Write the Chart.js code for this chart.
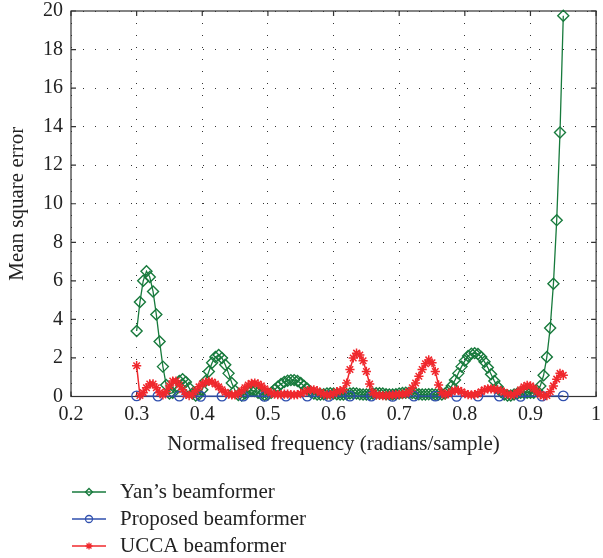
<!DOCTYPE html>
<html>
<head>
<meta charset="utf-8">
<script src="https://cdn.jsdelivr.net/npm/chart.js@4.4.0/dist/chart.umd.min.js"></script>
<style>
  html, body { margin: 0; padding: 0; background: #fff; }
  #wrap { width: 603px; height: 558px; }
</style>
</head>
<body>
<div id="wrap"><canvas id="mseChart" width="603" height="558"></canvas></div>
<script>
// frequency grid used by Yan's and the UCCA beamformer (0.005 steps)
const freqFine = [
  0.300, 0.305, 0.310, 0.315, 0.320, 0.325, 0.330, 0.335, 0.340, 0.345,
  0.350, 0.355, 0.360, 0.365, 0.370, 0.375, 0.380, 0.385, 0.390, 0.395,
  0.400, 0.405, 0.410, 0.415, 0.420, 0.425, 0.430, 0.435, 0.440, 0.445,
  0.450, 0.455, 0.460, 0.465, 0.470, 0.475, 0.480, 0.485, 0.490, 0.495,
  0.500, 0.505, 0.510, 0.515, 0.520, 0.525, 0.530, 0.535, 0.540, 0.545,
  0.550, 0.555, 0.560, 0.565, 0.570, 0.575, 0.580, 0.585, 0.590, 0.595,
  0.600, 0.605, 0.610, 0.615, 0.620, 0.625, 0.630, 0.635, 0.640, 0.645,
  0.650, 0.655, 0.660, 0.665, 0.670, 0.675, 0.680, 0.685, 0.690, 0.695,
  0.700, 0.705, 0.710, 0.715, 0.720, 0.725, 0.730, 0.735, 0.740, 0.745,
  0.750, 0.755, 0.760, 0.765, 0.770, 0.775, 0.780, 0.785, 0.790, 0.795,
  0.800, 0.805, 0.810, 0.815, 0.820, 0.825, 0.830, 0.835, 0.840, 0.845,
  0.850, 0.855, 0.860, 0.865, 0.870, 0.875, 0.880, 0.885, 0.890, 0.895,
  0.900, 0.905, 0.910, 0.915, 0.920, 0.925, 0.930, 0.935, 0.940, 0.945,
  0.950
];

// coarser grid for the proposed beamformer
const freqCoarse = [
  0.3, 0.3325, 0.365, 0.3975, 0.43, 0.4625, 0.495, 0.5275, 0.56, 0.5925,
  0.625, 0.6575, 0.69, 0.7225, 0.755, 0.7875, 0.82, 0.8525, 0.885, 0.9175,
  0.95
];

const yanMse = [
  3.4, 4.9, 6.0, 6.5, 6.2, 5.45, 4.25, 2.85, 1.55, 0.6,
  0.15, 0.2, 0.5, 0.8, 0.9, 0.75, 0.45, 0.15, 0.05, 0.1,
  0.35, 0.8, 1.3, 1.75, 2.05, 2.15, 2.0, 1.65, 1.2, 0.7,
  0.3, 0.08, 0.05, 0.15, 0.25, 0.3, 0.28, 0.2, 0.12, 0.08,
  0.1, 0.2, 0.35, 0.5, 0.65, 0.75, 0.82, 0.85, 0.85, 0.8,
  0.7, 0.55, 0.4, 0.25, 0.15, 0.1, 0.1, 0.12, 0.15, 0.17,
  0.15, 0.12, 0.1, 0.1, 0.12, 0.15, 0.17, 0.15, 0.12, 0.1,
  0.1, 0.12, 0.15, 0.17, 0.17, 0.15, 0.12, 0.1, 0.1, 0.12,
  0.15, 0.18, 0.2, 0.2, 0.18, 0.15, 0.12, 0.1, 0.1, 0.12,
  0.12, 0.1, 0.1, 0.1, 0.15, 0.3, 0.55, 0.85, 1.2, 1.55,
  1.85, 2.1, 2.22, 2.25, 2.2, 2.05, 1.8, 1.5, 1.15, 0.8,
  0.5, 0.25, 0.1, 0.05, 0.05, 0.1, 0.15, 0.2, 0.2, 0.2,
  0.2, 0.2, 0.3, 0.55, 1.1, 2.05, 3.55, 5.85, 9.15, 13.7,
  19.75
];

const proposedMse = [
  0.03, 0.02, 0.02, 0.01, 0.02, 0.02, 0.01, 0.02, 0.02, 0.01,
  0.02, 0.02, 0.01, 0.02, 0.02, 0.01, 0.02, 0.02, 0.01, 0.02,
  0.03
];

const uccaMse = [
  1.6, 0.05, 0.2, 0.45, 0.65, 0.65, 0.45, 0.2, 0.08, 0.25,
  0.55, 0.8, 0.8, 0.6, 0.35, 0.12, 0.05, 0.1, 0.3, 0.5,
  0.65, 0.75, 0.78, 0.75, 0.65, 0.5, 0.35, 0.22, 0.12, 0.08,
  0.08, 0.15, 0.3, 0.45, 0.6, 0.68, 0.7, 0.65, 0.55, 0.4,
  0.28, 0.18, 0.12, 0.1, 0.1, 0.12, 0.12, 0.1, 0.08, 0.1,
  0.15, 0.22, 0.3, 0.35, 0.35, 0.3, 0.2, 0.12, 0.08, 0.08,
  0.15, 0.25, 0.3, 0.35, 0.7, 1.4, 2.0, 2.25, 2.15, 1.85,
  1.3, 0.65, 0.2, 0.08, 0.06, 0.05, 0.05, 0.06, 0.08, 0.1,
  0.1, 0.12, 0.15, 0.25, 0.45, 0.7, 1.05, 1.4, 1.7, 1.9,
  1.75, 1.3, 0.6, 0.2, 0.08, 0.15, 0.25, 0.32, 0.32, 0.25,
  0.15, 0.1, 0.08, 0.1, 0.15, 0.25, 0.35, 0.4, 0.4, 0.38,
  0.35, 0.3, 0.22, 0.12, 0.08, 0.1, 0.2, 0.35, 0.5, 0.58,
  0.55, 0.42, 0.25, 0.1, 0.03, 0.05, 0.25, 0.55, 0.9, 1.2,
  1.1
];

const xTickValues = [0.2, 0.3, 0.4, 0.5, 0.6, 0.7, 0.8, 0.9, 1];
const yTickValues = [0, 2, 4, 6, 8, 10, 12, 14, 16, 18, 20];

const GREEN = '#177a3c';
const BLUE = '#2f4fae';
const RED = '#f0282d';
const INK = '#222';
const SERIF = '"Liberation Serif", "DejaVu Serif", serif';

Chart.defaults.font.family = SERIF;
Chart.defaults.color = INK;

function toPoints(xs, ys) {
    return xs.map((x, i) => ({ x: x, y: ys[i] }));
}

// box around the plot plus inward tick marks on all four sides
const axesFrame = {
    id: 'axesFrame',
    beforeDatasetsDraw(chart) {
        const { ctx, chartArea: a, scales: { x, y } } = chart;
        ctx.save();
        ctx.strokeStyle = '#333';
        ctx.lineWidth = 1.2;
        ctx.strokeRect(a.left, a.top, a.right - a.left, a.bottom - a.top);
        ctx.beginPath();
        xTickValues.forEach(v => {
            const px = x.getPixelForValue(v);
            ctx.moveTo(px, a.bottom); ctx.lineTo(px, a.bottom - 5);
            ctx.moveTo(px, a.top); ctx.lineTo(px, a.top + 5);
        });
        yTickValues.forEach(v => {
            const py = y.getPixelForValue(v);
            ctx.moveTo(a.left, py); ctx.lineTo(a.left + 5, py);
            ctx.moveTo(a.right, py); ctx.lineTo(a.right - 5, py);
        });
        ctx.stroke();
        ctx.restore();
    }
};

function drawMarker(ctx, style, cx, cy, r) {
    ctx.beginPath();
    if (style === 'rectRot') {
        ctx.moveTo(cx, cy - r); ctx.lineTo(cx + r, cy);
        ctx.lineTo(cx, cy + r); ctx.lineTo(cx - r, cy);
        ctx.closePath();
    } else if (style === 'circle') {
        ctx.arc(cx, cy, r, 0, Math.PI * 2);
    } else {
        for (let k = 0; k < 4; k++) {
            const ang = k * Math.PI / 4;
            ctx.moveTo(cx - r * Math.cos(ang), cy - r * Math.sin(ang));
            ctx.lineTo(cx + r * Math.cos(ang), cy + r * Math.sin(ang));
        }
    }
    ctx.stroke();
}

// legend listed under the axes: short line, marker, label
const legendBelow = {
    id: 'legendBelow',
    afterDraw(chart) {
        const { ctx } = chart;
        const rows = [492, 519, 546];
        ctx.save();
        chart.data.datasets.forEach((ds, i) => {
            const yy = rows[i];
            ctx.strokeStyle = ds.borderColor;
            ctx.lineWidth = 1.4;
            ctx.beginPath();
            ctx.moveTo(72, yy); ctx.lineTo(106, yy);
            ctx.stroke();
            ctx.lineWidth = 1.3;
            drawMarker(ctx, ds.pointStyle, 89, yy, 3.5);
            ctx.fillStyle = INK;
            ctx.font = '21px ' + SERIF;
            ctx.textBaseline = 'middle';
            ctx.textAlign = 'left';
            ctx.fillText(ds.label, 120, yy);
        });
        ctx.restore();
    }
};

const ctx = document.getElementById('mseChart').getContext('2d');

new Chart(ctx, {
    type: 'line',
    data: {
        datasets: [
            {
                label: 'Yan\u2019s beamformer',
                data: toPoints(freqFine, yanMse),
                borderColor: GREEN,
                borderWidth: 1.3,
                pointStyle: 'rectRot',
                pointRadius: 5.5,
                pointBorderWidth: 1.4,
                pointBorderColor: GREEN,
                pointBackgroundColor: 'rgba(0,0,0,0)',
                clip: false,
                order: 2
            },
            {
                label: 'Proposed beamformer',
                data: toPoints(freqCoarse, proposedMse),
                borderColor: BLUE,
                borderWidth: 1.4,
                pointStyle: 'circle',
                pointRadius: 4.8,
                pointBorderWidth: 1.3,
                pointBorderColor: BLUE,
                pointBackgroundColor: 'rgba(0,0,0,0)',
                clip: false,
                order: 1
            },
            {
                label: 'UCCA beamformer',
                data: toPoints(freqFine, uccaMse),
                borderColor: RED,
                borderWidth: 1.5,
                pointStyle: 'star',
                pointRadius: 4.6,
                pointBorderWidth: 1.5,
                pointBorderColor: RED,
                pointBackgroundColor: RED,
                clip: false,
                order: 0
            }
        ]
    },
    options: {
        responsive: false,
        animation: false,
        events: [],
        layout: { padding: { top: 11, right: 2, left: 0, bottom: 0 } },
        scales: {
            x: {
                type: 'linear',
                min: 0.2,
                max: 1,
                afterFit: s => {
                    s.height = 161.5;
                    s.paddingLeft = 0;
                    s.paddingRight = 0;
                },
                afterBuildTicks: s => { s.ticks = xTickValues.map(v => ({ value: v })); },
                grid: { color: 'rgba(0,0,0,0.8)', lineWidth: 1, drawTicks: false },
                border: { display: false, dash: [1, 11] },
                ticks: {
                    padding: 6,
                    maxRotation: 0,
                    autoSkip: false,
                    color: INK,
                    font: { size: 20 },
                    callback: v => String(Number(v.toFixed(1)))
                },
                title: {
                    display: true,
                    text: 'Normalised frequency (radians/sample)',
                    color: INK,
                    font: { size: 21 },
                    padding: { top: 0, bottom: 101 }
                }
            },
            y: {
                min: 0,
                max: 20,
                afterFit: s => {
                    s.width = 71;
                    s.paddingTop = 0;
                    s.paddingBottom = 0;
                },
                afterBuildTicks: s => { s.ticks = yTickValues.map(v => ({ value: v })); },
                grid: { color: 'rgba(0,0,0,0.8)', lineWidth: 1, drawTicks: false },
                border: { display: false, dash: [1, 11] },
                ticks: {
                    padding: 8,
                    color: INK,
                    font: { size: 20 }
                },
                title: {
                    display: true,
                    text: 'Mean square error',
                    color: INK,
                    font: { size: 21 },
                    padding: { top: 5, bottom: 0 }
                }
            }
        },
        plugins: {
            legend: { display: false },
            tooltip: { enabled: false }
        }
    },
    plugins: [axesFrame, legendBelow]
});
</script>
</body>
</html>
